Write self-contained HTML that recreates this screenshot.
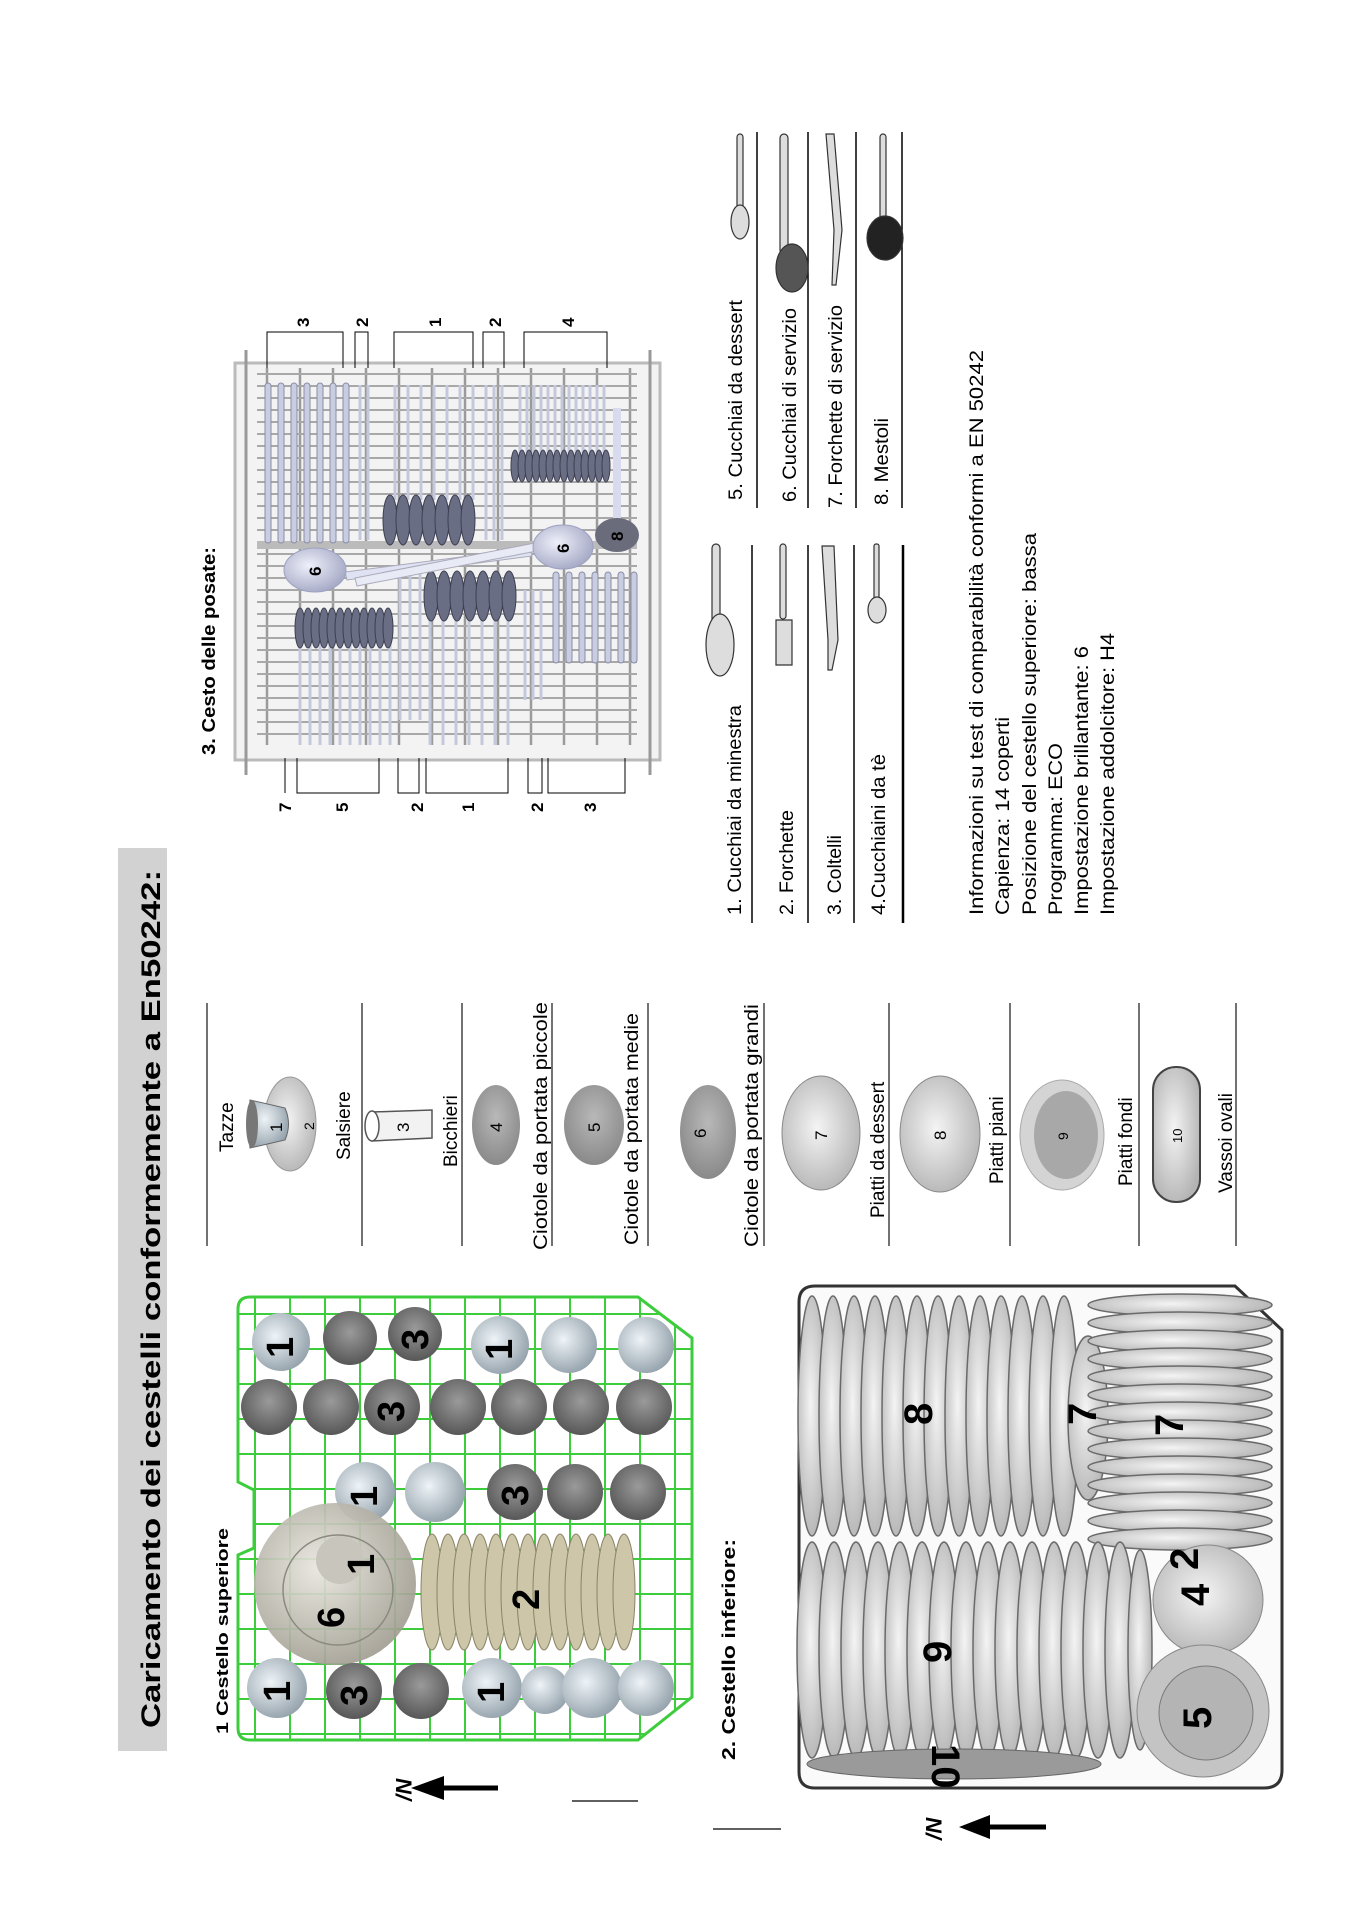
<!DOCTYPE html>
<html><head><meta charset="utf-8"><style>
html,body{margin:0;padding:0;background:#fff}
svg{display:block}
text{font-family:"Liberation Sans",Arial,sans-serif;fill:#000}
</style></head><body>
<svg width="1352" height="1913" viewBox="0 0 1352 1913" xmlns="http://www.w3.org/2000/svg">
<defs>
<pattern id="gg" x="238" y="1297" width="35" height="35" patternUnits="userSpaceOnUse">
<path d="M17 0V35M0 17H35" stroke="#3ccc3c" stroke-width="2" fill="none"/>
</pattern>
<pattern id="cg" x="257" y="368" width="33" height="12" patternUnits="userSpaceOnUse">
<path d="M10 0V12" stroke="#9a9a9a" stroke-width="2.5"/>
<path d="M0 6H33" stroke="#a8a8a8" stroke-width="2"/>
</pattern>
<radialGradient id="cup" cx="0.4" cy="0.4" r="0.7"><stop offset="0" stop-color="#eef4f8"/><stop offset="1" stop-color="#8c9aa4"/></radialGradient>
<radialGradient id="gl" cx="0.5" cy="0.4" r="0.7"><stop offset="0" stop-color="#9a9a9a"/><stop offset="1" stop-color="#4c4c4c"/></radialGradient>
<radialGradient id="bw" cx="0.4" cy="0.4" r="0.7"><stop offset="0" stop-color="#e8e6de"/><stop offset="1" stop-color="#9a968a"/></radialGradient>
<radialGradient id="pl" cx="0.45" cy="0.45" r="0.6"><stop offset="0" stop-color="#f4f4f4"/><stop offset="1" stop-color="#b4b4b4"/></radialGradient>
<radialGradient id="sp" cx="0.4" cy="0.4" r="0.7"><stop offset="0" stop-color="#eef0fa"/><stop offset="1" stop-color="#9ea2c0"/></radialGradient>
</defs>

<rect x="118" y="848" width="49" height="903" fill="#d2d2d2"/>
<text transform="translate(160 1728) rotate(-90)" font-size="27" font-weight="bold" textLength="858" lengthAdjust="spacingAndGlyphs">Caricamento dei cestelli conformemente a En50242:</text>

<text transform="translate(228 1734) rotate(-90)" font-size="17" font-weight="bold" textLength="206" lengthAdjust="spacingAndGlyphs">1 Cestello superiore</text>
<text transform="translate(735 1760) rotate(-90)" font-size="18" font-weight="bold" textLength="221" lengthAdjust="spacingAndGlyphs">2. Cestello inferiore:</text>

<g>
<path d="M250 1297 H638 L692 1338 V1697 L638 1740 H250 Q238 1740 238 1728 V1555 L254 1548 V1490 L238 1482 V1309 Q238 1297 250 1297Z" fill="url(#gg)" stroke="#3ccc3c" stroke-width="3"/>
<circle cx="281" cy="1342" r="29" fill="url(#cup)"/>
<circle cx="350" cy="1338" r="27" fill="url(#gl)"/>
<circle cx="415" cy="1334" r="27" fill="url(#gl)"/>
<circle cx="500" cy="1345" r="29" fill="url(#cup)"/>
<circle cx="569" cy="1345" r="28" fill="url(#cup)"/>
<circle cx="646" cy="1345" r="28" fill="url(#cup)"/>
<circle cx="269" cy="1407" r="28" fill="url(#gl)"/>
<circle cx="331" cy="1407" r="28" fill="url(#gl)"/>
<circle cx="392" cy="1407" r="28" fill="url(#gl)"/>
<circle cx="458" cy="1407" r="28" fill="url(#gl)"/>
<circle cx="519" cy="1407" r="28" fill="url(#gl)"/>
<circle cx="581" cy="1407" r="28" fill="url(#gl)"/>
<circle cx="644" cy="1407" r="28" fill="url(#gl)"/>
<circle cx="365" cy="1492" r="30" fill="url(#cup)"/>
<circle cx="435" cy="1492" r="30" fill="url(#cup)"/>
<circle cx="515" cy="1492" r="28" fill="url(#gl)"/>
<circle cx="575" cy="1492" r="28" fill="url(#gl)"/>
<circle cx="638" cy="1492" r="28" fill="url(#gl)"/>
<g fill="#cdc6a8" stroke="#8a8468" stroke-width="1">
<ellipse cx="432" cy="1592" rx="11" ry="58"/><ellipse cx="448" cy="1592" rx="11" ry="58"/><ellipse cx="464" cy="1592" rx="11" ry="58"/><ellipse cx="480" cy="1592" rx="11" ry="58"/><ellipse cx="496" cy="1592" rx="11" ry="58"/><ellipse cx="512" cy="1592" rx="11" ry="58"/><ellipse cx="528" cy="1592" rx="11" ry="58"/><ellipse cx="544" cy="1592" rx="11" ry="58"/><ellipse cx="560" cy="1592" rx="11" ry="58"/><ellipse cx="576" cy="1592" rx="11" ry="58"/><ellipse cx="592" cy="1592" rx="11" ry="58"/><ellipse cx="608" cy="1592" rx="11" ry="58"/><ellipse cx="624" cy="1592" rx="11" ry="58"/>
</g>
<circle cx="335" cy="1584" r="81" fill="url(#bw)" opacity="0.92"/>
<circle cx="338" cy="1590" r="55" fill="none" stroke="#8a8a80" stroke-width="1.5"/>
<circle cx="340" cy="1560" r="24" fill="#c8c6bc"/>
<circle cx="277" cy="1688" r="30" fill="url(#cup)"/>
<circle cx="354" cy="1691" r="28" fill="url(#gl)"/>
<circle cx="421" cy="1691" r="28" fill="url(#gl)"/>
<circle cx="492" cy="1688" r="30" fill="url(#cup)"/>
<circle cx="545" cy="1690" r="24" fill="url(#cup)"/>
<circle cx="592" cy="1688" r="30" fill="url(#cup)"/>
<circle cx="646" cy="1688" r="28" fill="url(#cup)"/>
<g font-size="38" font-weight="bold">
<text transform="translate(293 1358) rotate(-90)" fill="#111">1</text>
<text transform="translate(428 1350) rotate(-90)" fill="#fff">3</text>
<text transform="translate(512 1360) rotate(-90)" fill="#111">1</text>
<text transform="translate(404 1422) rotate(-90)" fill="#fff">3</text>
<text transform="translate(377 1507) rotate(-90)" fill="#111">1</text>
<text transform="translate(528 1506) rotate(-90)" fill="#111">3</text>
<text transform="translate(539 1610) rotate(-90)" fill="#111">2</text>
<text transform="translate(344 1628) rotate(-90)" fill="#111">6</text>
<text transform="translate(374 1575) rotate(-90)" fill="#555">1</text>
<text transform="translate(290 1702) rotate(-90)" fill="#111">1</text>
<text transform="translate(367 1706) rotate(-90)" fill="#fff">3</text>
<text transform="translate(504 1703) rotate(-90)" fill="#111">1</text>
</g>
</g>

<line x1="420" y1="1788" x2="498" y2="1788" stroke="#000" stroke-width="5"/>
<polygon points="411,1788 444,1776 444,1800" fill="#000"/>
<text transform="translate(396 1778) rotate(90)" font-size="22" font-weight="bold" font-style="italic">N/</text>
<line x1="572" y1="1801" x2="638" y2="1801" stroke="#000" stroke-width="1.2"/>
<line x1="968" y1="1827" x2="1046" y2="1827" stroke="#000" stroke-width="5"/>
<polygon points="959,1827 990,1815 990,1839" fill="#000"/>
<text transform="translate(926 1817) rotate(90)" font-size="22" font-weight="bold" font-style="italic">N/</text>
<line x1="713" y1="1829" x2="781" y2="1829" stroke="#000" stroke-width="1.2"/>

<g>
<path d="M815 1286 H1235 L1282 1330 V1770 Q1282 1788 1264 1788 H815 Q799 1788 799 1772 V1302 Q799 1286 815 1286Z" fill="#fafafa" stroke="#333" stroke-width="3"/>
<g fill="url(#pl)" stroke="#6a6a6a" stroke-width="1.5">
<ellipse cx="812" cy="1416" rx="14" ry="120"/><ellipse cx="833" cy="1416" rx="14" ry="120"/><ellipse cx="854" cy="1416" rx="14" ry="120"/><ellipse cx="875" cy="1416" rx="14" ry="120"/><ellipse cx="896" cy="1416" rx="14" ry="120"/><ellipse cx="917" cy="1416" rx="14" ry="120"/><ellipse cx="938" cy="1416" rx="14" ry="120"/><ellipse cx="959" cy="1416" rx="14" ry="120"/><ellipse cx="980" cy="1416" rx="14" ry="120"/><ellipse cx="1001" cy="1416" rx="14" ry="120"/><ellipse cx="1022" cy="1416" rx="14" ry="120"/><ellipse cx="1043" cy="1416" rx="14" ry="120"/><ellipse cx="1064" cy="1416" rx="14" ry="120"/>
<ellipse cx="1088" cy="1418" rx="20" ry="82"/>
<ellipse cx="1180" cy="1305" rx="92" ry="11"/><ellipse cx="1180" cy="1323" rx="92" ry="11"/><ellipse cx="1180" cy="1341" rx="92" ry="11"/><ellipse cx="1180" cy="1359" rx="92" ry="11"/><ellipse cx="1180" cy="1377" rx="92" ry="11"/><ellipse cx="1180" cy="1395" rx="92" ry="11"/><ellipse cx="1180" cy="1413" rx="92" ry="11"/><ellipse cx="1180" cy="1431" rx="92" ry="11"/><ellipse cx="1180" cy="1449" rx="92" ry="11"/><ellipse cx="1180" cy="1467" rx="92" ry="11"/><ellipse cx="1180" cy="1485" rx="92" ry="11"/><ellipse cx="1180" cy="1503" rx="92" ry="11"/><ellipse cx="1180" cy="1521" rx="92" ry="11"/><ellipse cx="1180" cy="1539" rx="92" ry="11"/>
<ellipse cx="812" cy="1650" rx="15" ry="108"/><ellipse cx="834" cy="1650" rx="15" ry="108"/><ellipse cx="856" cy="1650" rx="15" ry="108"/><ellipse cx="878" cy="1650" rx="15" ry="108"/><ellipse cx="900" cy="1650" rx="15" ry="108"/><ellipse cx="922" cy="1650" rx="15" ry="108"/><ellipse cx="944" cy="1650" rx="15" ry="108"/><ellipse cx="966" cy="1650" rx="15" ry="108"/><ellipse cx="988" cy="1650" rx="15" ry="108"/><ellipse cx="1010" cy="1650" rx="15" ry="108"/><ellipse cx="1032" cy="1650" rx="15" ry="108"/><ellipse cx="1054" cy="1650" rx="15" ry="108"/><ellipse cx="1076" cy="1650" rx="15" ry="108"/><ellipse cx="1098" cy="1650" rx="15" ry="108"/><ellipse cx="1120" cy="1650" rx="15" ry="108"/><ellipse cx="1140" cy="1650" rx="12" ry="100"/>
</g>
<circle cx="1208" cy="1600" r="55" fill="url(#pl)" stroke="#888"/>
<circle cx="1203" cy="1711" r="66" fill="#c4c4c4" stroke="#888"/>
<circle cx="1206" cy="1713" r="47" fill="#b4b4b4" stroke="#7a7a7a"/>
<ellipse cx="954" cy="1764" rx="147" ry="15" fill="#9a9a9a" stroke="#666"/>
<g font-size="40" font-weight="bold">
<text transform="translate(932 1425) rotate(-90)">8</text>
<text transform="translate(951 1663) rotate(-90)">9</text>
<text transform="translate(1096 1425) rotate(-90)">7</text>
<text transform="translate(1183 1436) rotate(-90)">7</text>
<text transform="translate(1198 1570) rotate(-90)">2</text>
<text transform="translate(1209 1606) rotate(-90)">4</text>
<text transform="translate(1211 1729) rotate(-90)">5</text>
<text transform="translate(932 1744) rotate(90)" fill="#fff">10</text>
</g>
</g>

<g stroke="#444" stroke-width="1.5">
<line x1="207" y1="1003" x2="207" y2="1246"/>
<line x1="362" y1="1003" x2="362" y2="1246"/>
<line x1="462" y1="1003" x2="462" y2="1246"/>
<line x1="552" y1="1003" x2="552" y2="1246"/>
<line x1="648" y1="1003" x2="648" y2="1246"/>
<line x1="764" y1="1003" x2="764" y2="1246"/>
<line x1="889" y1="1003" x2="889" y2="1246"/>
<line x1="1010" y1="1003" x2="1010" y2="1246"/>
<line x1="1139" y1="1003" x2="1139" y2="1246"/>
<line x1="1236" y1="1003" x2="1236" y2="1246"/>
</g>
<g font-size="19">
<text transform="translate(233 1152) rotate(-90)">Tazze</text>
<text transform="translate(350 1160) rotate(-90)">Salsiere</text>
<text transform="translate(457 1167) rotate(-90)">Bicchieri</text>
<text transform="translate(547 1250) rotate(-90)" textLength="248" lengthAdjust="spacingAndGlyphs">Ciotole da portata piccole</text>
<text transform="translate(638 1245) rotate(-90)" textLength="232" lengthAdjust="spacingAndGlyphs">Ciotole da portata medie</text>
<text transform="translate(758 1247) rotate(-90)" textLength="243" lengthAdjust="spacingAndGlyphs">Ciotole da portata grandi</text>
<text transform="translate(884 1218) rotate(-90)">Piatti da dessert</text>
<text transform="translate(1003 1184) rotate(-90)">Piatti piani</text>
<text transform="translate(1132 1186) rotate(-90)">Piatti fondi</text>
<text transform="translate(1232 1193) rotate(-90)">Vassoi ovali</text>
</g>
<ellipse cx="290" cy="1124" rx="26" ry="47" fill="url(#pl)" stroke="#999"/>
<path d="M250 1100 Q248 1124 250 1148 L285 1140 Q292 1124 285 1108Z" fill="url(#cup)" stroke="#666"/>
<ellipse cx="252" cy="1124" rx="6" ry="24" fill="#777"/>
<text transform="translate(282 1132) rotate(-90)" font-size="17">1</text>
<text transform="translate(314 1130) rotate(-90)" font-size="14">2</text>
<path d="M372 1112 L432 1110 L432 1138 L372 1141Z" fill="#f2f2f2" stroke="#555" stroke-width="1.5"/>
<ellipse cx="372" cy="1126" rx="7" ry="15" fill="#fff" stroke="#555" stroke-width="1.5"/>
<text transform="translate(409 1132) rotate(-90)" font-size="17">3</text>
<ellipse cx="496" cy="1125" rx="24" ry="40" fill="url(#gl)" opacity="0.7"/>
<text transform="translate(502 1132) rotate(-90)" font-size="17">4</text>
<ellipse cx="594" cy="1125" rx="30" ry="40" fill="url(#gl)" opacity="0.7"/>
<text transform="translate(600 1132) rotate(-90)" font-size="17">5</text>
<ellipse cx="708" cy="1132" rx="28" ry="47" fill="url(#gl)" opacity="0.7"/>
<text transform="translate(706 1138) rotate(-90)" font-size="17">6</text>
<ellipse cx="821" cy="1133" rx="39" ry="57" fill="url(#pl)" stroke="#888"/>
<text transform="translate(827 1140) rotate(-90)" font-size="17">7</text>
<ellipse cx="940" cy="1134" rx="40" ry="58" fill="url(#pl)" stroke="#888"/>
<text transform="translate(946 1140) rotate(-90)" font-size="17">8</text>
<ellipse cx="1062" cy="1135" rx="42" ry="55" fill="#d4d4d4" stroke="#aaa"/>
<ellipse cx="1066" cy="1135" rx="32" ry="44" fill="#a8a8a8"/>
<text transform="translate(1068 1140) rotate(-90)" font-size="14">9</text>
<rect x="1153" y="1067" width="47" height="135" rx="23" fill="url(#pl)" stroke="#444" stroke-width="2"/>
<text transform="translate(1182 1143) rotate(-90)" font-size="13">10</text>

<text transform="translate(215 755) rotate(-90)" font-size="18" font-weight="bold" textLength="208" lengthAdjust="spacingAndGlyphs">3. Cesto delle posate:</text>
<rect x="235" y="363" width="425" height="397" fill="#f3f3f3" stroke="#bbb" stroke-width="3"/>
<rect x="257" y="368" width="380" height="377" fill="url(#cg)"/>
<line x1="257" y1="545" x2="637" y2="545" stroke="#bbb" stroke-width="8"/>
<g stroke="#999" stroke-width="3">
<line x1="246" y1="350" x2="246" y2="775"/><line x1="650" y1="350" x2="650" y2="775"/>
</g>
<g fill="#c9cde2" stroke="#8a8ea6" stroke-width="1">
<rect x="265" y="383" width="6" height="160" rx="3"/><rect x="278" y="383" width="6" height="160" rx="3"/><rect x="291" y="383" width="6" height="160" rx="3"/><rect x="304" y="383" width="6" height="160" rx="3"/><rect x="317" y="383" width="6" height="160" rx="3"/><rect x="330" y="383" width="6" height="160" rx="3"/><rect x="343" y="383" width="6" height="160" rx="3"/>
<rect x="553" y="572" width="6" height="91" rx="3"/><rect x="566" y="572" width="6" height="91" rx="3"/><rect x="579" y="572" width="6" height="91" rx="3"/><rect x="592" y="572" width="6" height="91" rx="3"/><rect x="605" y="572" width="6" height="91" rx="3"/><rect x="618" y="572" width="6" height="91" rx="3"/><rect x="631" y="572" width="6" height="91" rx="3"/>
</g>
<g stroke="#c4c8dc" stroke-width="3" fill="none">
<path d="M360 385V540M368 385V540M395 385V500M408 385V500M421 385V500M434 385V500M447 385V500M460 385V500M473 385V500M486 385V540M494 385V540M502 385V540"/>
<path d="M520 385V455M527 385V455M534 385V455M541 385V455M548 385V455M555 385V455M562 385V455M569 385V455M576 385V455M583 385V455M590 385V455M597 385V455M604 385V455"/>
<path d="M300 640V745M310 640V745M320 640V745M330 640V745M340 640V745M350 640V745M360 640V745M370 640V745M380 640V745M390 640V745"/>
<path d="M400 570V720M410 570V720M420 570V720M430 620V745M443 620V745M456 620V745M469 620V745M482 620V745M495 620V745M508 620V745M525 590V700M533 590V700M541 590V700"/>
</g>
<g fill="#6a6e84" stroke="#3e4052" stroke-width="1">
<ellipse cx="515" cy="466" rx="4" ry="16"/><ellipse cx="522" cy="466" rx="4" ry="16"/><ellipse cx="529" cy="466" rx="4" ry="16"/><ellipse cx="536" cy="466" rx="4" ry="16"/><ellipse cx="543" cy="466" rx="4" ry="16"/><ellipse cx="550" cy="466" rx="4" ry="16"/><ellipse cx="557" cy="466" rx="4" ry="16"/><ellipse cx="564" cy="466" rx="4" ry="16"/><ellipse cx="571" cy="466" rx="4" ry="16"/><ellipse cx="578" cy="466" rx="4" ry="16"/><ellipse cx="585" cy="466" rx="4" ry="16"/><ellipse cx="592" cy="466" rx="4" ry="16"/><ellipse cx="599" cy="466" rx="4" ry="16"/><ellipse cx="606" cy="466" rx="4" ry="16"/>
<ellipse cx="390" cy="520" rx="7" ry="25"/><ellipse cx="403" cy="520" rx="7" ry="25"/><ellipse cx="416" cy="520" rx="7" ry="25"/><ellipse cx="429" cy="520" rx="7" ry="25"/><ellipse cx="442" cy="520" rx="7" ry="25"/><ellipse cx="455" cy="520" rx="7" ry="25"/><ellipse cx="468" cy="520" rx="7" ry="25"/>
<ellipse cx="431" cy="596" rx="7" ry="25"/><ellipse cx="444" cy="596" rx="7" ry="25"/><ellipse cx="457" cy="596" rx="7" ry="25"/><ellipse cx="470" cy="596" rx="7" ry="25"/><ellipse cx="483" cy="596" rx="7" ry="25"/><ellipse cx="496" cy="596" rx="7" ry="25"/><ellipse cx="509" cy="596" rx="7" ry="25"/>
<ellipse cx="300" cy="628" rx="5" ry="20"/><ellipse cx="308" cy="628" rx="5" ry="20"/><ellipse cx="316" cy="628" rx="5" ry="20"/><ellipse cx="324" cy="628" rx="5" ry="20"/><ellipse cx="332" cy="628" rx="5" ry="20"/><ellipse cx="340" cy="628" rx="5" ry="20"/><ellipse cx="348" cy="628" rx="5" ry="20"/><ellipse cx="356" cy="628" rx="5" ry="20"/><ellipse cx="364" cy="628" rx="5" ry="20"/><ellipse cx="372" cy="628" rx="5" ry="20"/><ellipse cx="380" cy="628" rx="5" ry="20"/><ellipse cx="388" cy="628" rx="5" ry="20"/>
</g>
<path d="M345 572 L530 548 L532 556 L347 580Z" fill="#dfe2f2" stroke="#aab"/>
<path d="M355 578 L540 542 L542 550 L357 586Z" fill="#e8eaf6" stroke="#aab"/>
<ellipse cx="315" cy="570" rx="31" ry="22" fill="url(#sp)" stroke="#9ea2c0"/>
<ellipse cx="563" cy="547" rx="30" ry="22" fill="url(#sp)" stroke="#9ea2c0"/>
<rect x="613" y="408" width="8" height="110" fill="#d8dbee"/>
<ellipse cx="617" cy="535" rx="22" ry="17" fill="#6a6c7c"/>
<g font-size="17" font-weight="bold">
<text transform="translate(321 576) rotate(-90)">6</text>
<text transform="translate(569 553) rotate(-90)">6</text>
<text transform="translate(623 541) rotate(-90)" fill="#fff">8</text>
</g>
<g stroke="#000" stroke-width="1" fill="none">
<path d="M267 368V332H343V368M355 368V332H368V368M394 368V332H473V368M483 368V332H504V368M524 368V332H607V368"/>
<path d="M285 758V793M297 758V793H379V758M398 758V793H419V758M426 758V793H508V758M528 758V793H542V758M548 758V793H625V758"/>
</g>
<g font-size="17" font-weight="bold">
<text transform="translate(309 327) rotate(-90)">3</text>
<text transform="translate(368 327) rotate(-90)">2</text>
<text transform="translate(441 327) rotate(-90)">1</text>
<text transform="translate(501 327) rotate(-90)">2</text>
<text transform="translate(574 327) rotate(-90)">4</text>
<text transform="translate(291 812) rotate(-90)">7</text>
<text transform="translate(348 812) rotate(-90)">5</text>
<text transform="translate(423 812) rotate(-90)">2</text>
<text transform="translate(474 812) rotate(-90)">1</text>
<text transform="translate(543 812) rotate(-90)">2</text>
<text transform="translate(596 812) rotate(-90)">3</text>
</g>

<g stroke="#000" stroke-width="1.5">
<line x1="757" y1="132" x2="757" y2="508"/>
<line x1="808" y1="132" x2="808" y2="508"/>
<line x1="856" y1="132" x2="856" y2="508"/>
<line x1="902" y1="132" x2="902" y2="508"/>
<line x1="752" y1="545" x2="752" y2="923"/>
<line x1="808" y1="545" x2="808" y2="923"/>
<line x1="854" y1="545" x2="854" y2="923"/>
<line x1="903" y1="545" x2="903" y2="923" stroke-width="2.5"/>
</g>
<g font-size="19">
<text transform="translate(742 500) rotate(-90)" textLength="200" lengthAdjust="spacingAndGlyphs">5. Cucchiai da dessert</text>
<text transform="translate(796 502) rotate(-90)" textLength="194" lengthAdjust="spacingAndGlyphs">6. Cucchiai di servizio</text>
<text transform="translate(842 508) rotate(-90)" textLength="203" lengthAdjust="spacingAndGlyphs">7. Forchette di servizio</text>
<text transform="translate(888 505) rotate(-90)" textLength="87" lengthAdjust="spacingAndGlyphs">8. Mestoli</text>
<text transform="translate(741 915) rotate(-90)" textLength="210" lengthAdjust="spacingAndGlyphs">1. Cucchiai da minestra</text>
<text transform="translate(793 915) rotate(-90)" textLength="105" lengthAdjust="spacingAndGlyphs">2. Forchette</text>
<text transform="translate(841 915) rotate(-90)" textLength="80" lengthAdjust="spacingAndGlyphs">3. Coltelli</text>
<text transform="translate(885 915) rotate(-90)" textLength="161" lengthAdjust="spacingAndGlyphs">4.Cucchiaini da tè</text>
<text transform="translate(983 915) rotate(-90)" textLength="565" lengthAdjust="spacingAndGlyphs">Informazioni su test di comparabilità conformi a EN 50242</text>
<text transform="translate(1009 915) rotate(-90)" textLength="198" lengthAdjust="spacingAndGlyphs">Capienza: 14 coperti</text>
<text transform="translate(1036 915) rotate(-90)" textLength="382" lengthAdjust="spacingAndGlyphs">Posizione del cestello superiore: bassa</text>
<text transform="translate(1062 915) rotate(-90)" textLength="172" lengthAdjust="spacingAndGlyphs">Programma: ECO</text>
<text transform="translate(1088 915) rotate(-90)" textLength="269" lengthAdjust="spacingAndGlyphs">Impostazione brillantante: 6</text>
<text transform="translate(1114 915) rotate(-90)" textLength="282" lengthAdjust="spacingAndGlyphs">Impostazione addolcitore: H4</text>
</g>
<g fill="#ddd" stroke="#333" stroke-width="1.2">
<rect x="737" y="134" width="6" height="80" rx="3"/><ellipse cx="740" cy="222" rx="9" ry="17"/>
<rect x="780" y="134" width="8" height="120" rx="4"/><ellipse cx="792" cy="268" rx="16" ry="24" fill="#555"/>
<path d="M826 134 L834 134 L842 230 L836 285 L832 285 L834 230Z"/>
<rect x="880" y="134" width="6" height="95" rx="3"/><ellipse cx="885" cy="238" rx="18" ry="22" fill="#222"/>
<rect x="712" y="544" width="8" height="85" rx="4"/><ellipse cx="720" cy="645" rx="14" ry="31"/>
<rect x="780" y="544" width="6" height="75" rx="3"/><path d="M776 620 H792 V665 H776Z"/>
<path d="M822 546 L834 546 L838 640 L832 670 L828 670 L828 640Z"/>
<rect x="874" y="544" width="5" height="55" rx="2"/><ellipse cx="877" cy="610" rx="9" ry="13"/>
</g>
</svg>
</body></html>
